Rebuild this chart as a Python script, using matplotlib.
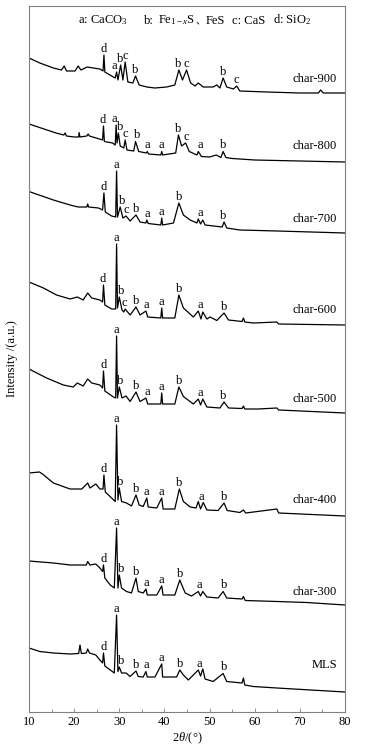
import numpy as np
import matplotlib
matplotlib.use('Agg')
import matplotlib.pyplot as plt
from matplotlib.ticker import MultipleLocator

plt.rcParams['font.family'] = ['Liberation Serif', 'Noto Sans CJK SC']
plt.rcParams['mathtext.fontset'] = 'custom'
plt.rcParams['mathtext.rm'] = 'Liberation Serif'
plt.rcParams['mathtext.it'] = 'Liberation Serif:italic'
plt.rcParams['mathtext.bf'] = 'Liberation Serif:bold'

# XRD patterns, 2theta (deg) and relative intensity (a.u.)
tt_900 = [10.0, 12.4, 15.4, 17.2, 17.8, 18.3, 20.2, 20.9, 21.5, 22.9, 24.2, 25.7, 26.4, 26.6, 26.8,
          28.3, 29.1, 29.4, 29.7, 30.3, 30.8, 31.3, 31.9, 33.0, 33.6, 34.4, 36.1, 37.9, 40.5, 42.3,
          43.2, 44.0, 44.9, 45.8, 46.8, 47.5, 48.6, 50.8, 51.6, 52.3, 53.0, 53.8, 55.3, 56.0, 56.7,
          62.7, 70.0, 74.1, 74.6, 75.2, 80.0]
i_900 = [35, 30, 25, 23, 27, 22, 22, 27, 23, 26, 25, 24, 22, 38, 21,
         17, 15, 21, 13, 28, 13, 31, 11, 10, 17, 8, 6, 5, 6, 8,
         23, 13, 23, 10, 7, 10, 6, 6, 8, 5, 15, 6, 4, 7, 2,
         1, 0, 0, 3, 0, 0]

tt_800 = [10.0, 12.0, 14.0, 16.0, 17.7, 18.0, 18.3, 20.0, 21.0, 21.1, 21.3, 22.8, 23.1, 23.4, 25.6,
          26.3, 26.5, 26.7, 28.5, 29.1, 29.3, 29.5, 29.8, 30.2, 31.0, 31.3, 31.7, 33.2, 33.6, 34.3,
          36.0, 36.2, 36.5, 39.2, 39.4, 39.6, 42.5, 43.1, 43.8, 44.7, 45.5, 47.2, 47.5, 48.2, 50.0,
          51.5, 52.5, 53.0, 53.6, 55.0, 60.0, 70.0, 80.0]
i_800 = [38, 35, 32, 29, 27, 29, 26, 25, 25, 29.5, 25, 26, 28, 26, 23,
         22, 36, 20.5, 19, 17, 37, 19, 29, 16, 14, 22, 12, 11, 20.5, 10.5,
         9, 10.5, 8, 7, 10.5, 7, 9, 27, 16, 19, 10.5, 7, 10.5, 5.5, 5,
         7, 4.5, 10.5, 4.5, 3.5, 2, 1, 0]

tt_700 = [10.0, 15.4, 19.1, 20.9, 22.8, 23.0, 23.2, 25.4, 26.3, 26.6, 26.9, 28.3, 29.2, 29.4, 29.6,
          30.2, 30.8, 31.5, 32.4, 33.7, 34.6, 35.9, 36.1, 36.4, 39.2, 39.4, 39.6, 42.0, 43.2, 44.2,
          45.7, 47.2, 47.5, 48.0, 48.5, 49.0, 52.8, 53.2, 53.8, 56.7, 65.0, 80.0]
i_700 = [41.5, 33, 28, 26, 26, 29, 26, 25, 23, 40, 21, 17, 16, 62, 16,
         26, 15, 17, 12, 18, 11, 10, 13, 9.5, 8, 15, 8, 10, 30, 18,
         13, 10, 14, 9, 13, 8, 6, 11, 5, 3, 2, 0]

tt_600 = [10.0, 13.2, 16.1, 19.1, 20.7, 22.0, 23.0, 23.9, 25.7, 26.3, 26.5, 26.8, 28.3, 29.2, 29.4,
          29.6, 30.0, 30.6, 31.0, 31.3, 32.4, 33.7, 34.6, 35.9, 36.3, 39.2, 39.4, 39.6, 42.3, 43.2,
          44.2, 46.4, 47.5, 48.1, 48.5, 49.4, 50.1, 51.6, 53.2, 54.2, 57.2, 57.5, 57.8, 59.7, 64.9,
          65.3, 80.0]
i_600 = [43, 37, 30, 26, 28, 25, 32, 27, 25, 23, 40, 20, 16, 16, 81,
         17, 28, 15, 13, 16, 10, 18, 10, 14, 8, 7, 17, 7, 7, 30,
         17, 8, 14, 6, 13, 6, 8, 4.5, 12, 5, 3.5, 7, 3, 2, 3,
         1, 0]

tt_500 = [10.0, 13.9, 17.6, 19.8, 20.7, 22.0, 23.0, 23.9, 25.7, 26.3, 26.5, 26.8, 28.7, 29.2, 29.4,
          29.6, 30.0, 30.6, 31.5, 32.4, 33.7, 34.6, 35.9, 36.3, 39.2, 39.4, 39.6, 42.3, 43.2, 44.2,
          46.4, 47.5, 48.0, 48.5, 49.4, 52.3, 53.2, 54.2, 57.2, 57.5, 57.8, 60.8, 64.9, 65.3, 80.0]
i_500 = [44, 35, 28, 26, 30, 27, 34, 30, 28, 25, 42, 22, 16, 15, 77,
         15, 26, 15, 17, 11.5, 21, 11.5, 15, 9, 9, 20, 9, 9, 26, 16.5,
         9, 14, 8, 14, 6, 5, 11, 5, 4.5, 7, 4, 4, 5, 3, 0]

tt_400 = [10.0, 12.3, 13.0, 15.4, 19.1, 21.7, 23.0, 23.5, 24.8, 25.7, 26.4, 26.6, 26.9, 28.3, 29.1,
          29.4, 29.7, 30.0, 30.5, 31.6, 32.7, 33.7, 34.4, 35.3, 36.1, 36.4, 38.3, 39.4, 39.7, 42.3,
          43.3, 44.2, 45.7, 47.0, 47.5, 48.0, 48.6, 49.4, 51.9, 53.2, 53.9, 56.7, 57.5, 58.0, 64.9,
          65.3, 80.0]
i_400 = [43, 44, 42, 33, 27, 27, 33, 28, 32, 27, 27, 41, 24, 18, 14.5,
         91, 16, 28, 14.5, 13, 10, 21, 11, 9.5, 18, 9, 8, 18, 7, 7,
         27, 14.5, 9, 8, 14.5, 7, 13.5, 6, 5.5, 13, 5.5, 3.5, 6, 3, 7,
         3, 0]

tt_300 = [10.0, 15.4, 19.1, 22.7, 23.0, 23.5, 24.8, 25.7, 26.3, 26.5, 26.8, 28.0, 28.9, 29.4, 29.7,
          30.0, 30.5, 31.6, 32.7, 33.7, 34.2, 35.3, 35.9, 36.2, 38.3, 39.4, 39.7, 42.3, 43.4, 44.0,
          44.6, 46.0, 47.5, 48.0, 48.5, 49.4, 51.9, 53.0, 53.8, 57.2, 57.5, 57.9, 64.9, 71.5, 80.0]
i_300 = [44, 42, 40, 40, 43.5, 40, 41, 37, 33.5, 40, 27, 20, 17, 77, 17,
         30, 17, 13.5, 12, 27, 13.5, 12, 16, 10, 10, 19, 10, 10, 25, 18.5,
         12, 9, 13.5, 9, 13.5, 8, 7, 13.5, 7, 6, 8.5, 4.5, 3.5, 2.5, 0]

tt_mls = [10.0, 12.4, 15.4, 19.1, 21.0, 21.3, 21.6, 22.7, 23.0, 23.4, 24.8, 25.7, 26.3, 26.5, 26.8,
          28.0, 28.9, 29.4, 29.7, 30.0, 30.5, 31.5, 32.4, 33.7, 34.2, 35.3, 35.9, 36.2, 37.9, 39.4,
          39.6, 42.7, 43.4, 44.2, 45.3, 47.5, 48.0, 48.5, 49.0, 50.8, 53.0, 53.8, 57.2, 57.5, 57.8,
          59.7, 64.9, 80.0]
i_mls = [44, 40.5, 39, 38, 38.5, 47, 38.5, 39, 43, 39, 37, 32, 29, 39, 26,
         22, 19, 77, 20.5, 25, 19, 19, 15.5, 21, 15.5, 15, 20.5, 15, 15, 28,
         15, 15, 22, 17, 12, 22, 16, 23, 13, 10.5, 18.5, 10.5, 9, 14, 7,
         5.5, 4, 0]

names = ['char-900', 'char-800', 'char-700', 'char-600', 'char-500', 'char-400', 'char-300', 'MLS']
two_theta = [tt_900, tt_800, tt_700, tt_600, tt_500, tt_400, tt_300, tt_mls]
intens = [i_900, i_800, i_700, i_600, i_500, i_400, i_300, i_mls]

# peak marks: position (2theta) and phase letter
pk_900 = ([26.6, 28.9, 30.2, 31.3, 33.6, 43.0, 44.9, 52.9, 56.0], 'dabcbbcbc')
pk_800 = ([26.4, 28.9, 30.2, 31.4, 33.9, 36.1, 39.3, 43.1, 44.9, 48.0, 52.9], 'dabcbaabcab')
pk_700 = ([26.5, 29.4, 30.6, 31.5, 33.7, 36.1, 39.3, 43.2, 47.9, 53.0], 'dabcbaabab')
pk_600 = ([26.4, 29.3, 30.4, 31.1, 33.7, 35.9, 39.3, 43.3, 47.9, 53.2], 'dabcbaabab')
pk_500 = ([26.5, 29.4, 30.2, 33.8, 36.1, 39.3, 43.2, 47.9, 53.0], 'dabbaabab')
pk_400 = ([26.5, 29.4, 30.3, 33.7, 36.0, 39.4, 43.3, 48.1, 53.2], 'dabbaabab')
pk_300 = ([26.5, 29.4, 30.4, 33.8, 35.9, 39.3, 43.4, 47.7, 53.2], 'dabbaabab')
pk_mls = ([26.5, 29.4, 30.5, 33.8, 35.9, 39.3, 43.4, 47.7, 53.2], 'dabbaabab')
peaks = [pk_900, pk_800, pk_700, pk_600, pk_500, pk_400, pk_300, pk_mls]

# stacking
offsets = [619, 550, 479, 387, 299, 196, 107, 20]
name_pad = [14, 16, 14, 15, 14, 16, 13, 27]

# phase legend pieces and the gap (px) before each one
legend_parts = ['a: CaCO$_3$', 'b:', 'Fe$_{1-x}$S', '、', 'FeS', 'c: CaS', 'd: SiO$_2$']
legend_gaps = [0, 16, 5, 0, 1, 7, 7]

fig = plt.figure(figsize=(3.72, 7.52), dpi=100)
ax = fig.add_axes([29/372, 40/752, 316/372, 706/752])

for tt, it, off, name, npad, pk in zip(two_theta, intens, offsets, names, name_pad, peaks):
    tt = np.array(tt)
    y = np.array(it) + off
    ax.plot(tt, y, color='k', lw=0.9)
    for x, s in zip(pk[0], pk[1]):
        m = (tt >= x - 0.55) & (tt <= x + 0.55)
        top = y[m].max()
        ax.text(x, top + 3, s, ha='center', va='baseline', fontsize=9)
    ax.text(78.2, off + npad, name, ha='right', va='center', fontsize=9)

ax.set_xlim(10, 80)
ax.set_ylim(0, 706)
ax.xaxis.set_major_locator(MultipleLocator(10))
ax.xaxis.set_minor_locator(MultipleLocator(5))
ax.tick_params(axis='x', which='major', direction='in', length=3, width=0.6,
               color='#808080', labelsize=9, pad=3)
ax.tick_params(axis='x', which='minor', direction='in', length=2, width=0.6, color='#808080')
ax.set_yticks([])
for sp in ax.spines.values():
    sp.set_color('#808080')
    sp.set_linewidth(0.8)

ax.set_xlabel('2$\\theta$/(°)', fontsize=9, labelpad=2)
ax.set_ylabel('Intensity /(a.u.)', fontsize=9, labelpad=8)

# lay out the legend pieces one after another on a common baseline
fig.canvas.draw()
renderer = fig.canvas.get_renderer()
x_px = ax.transAxes.transform((0.155, 0))[0]
y_px = ax.transAxes.transform((0, 0.975))[1]
for part, gap in zip(legend_parts, legend_gaps):
    x_px += gap
    if part == '、':
        t = fig.text(x_px / 372, y_px / 752, part, fontsize=7, va='baseline',
                     family=['Noto Sans CJK SC'])
    else:
        t = fig.text(x_px / 372, y_px / 752, part, fontsize=9, va='baseline')
    x_px = t.get_window_extent(renderer).x1

fig.savefig('out.png', dpi=100)
